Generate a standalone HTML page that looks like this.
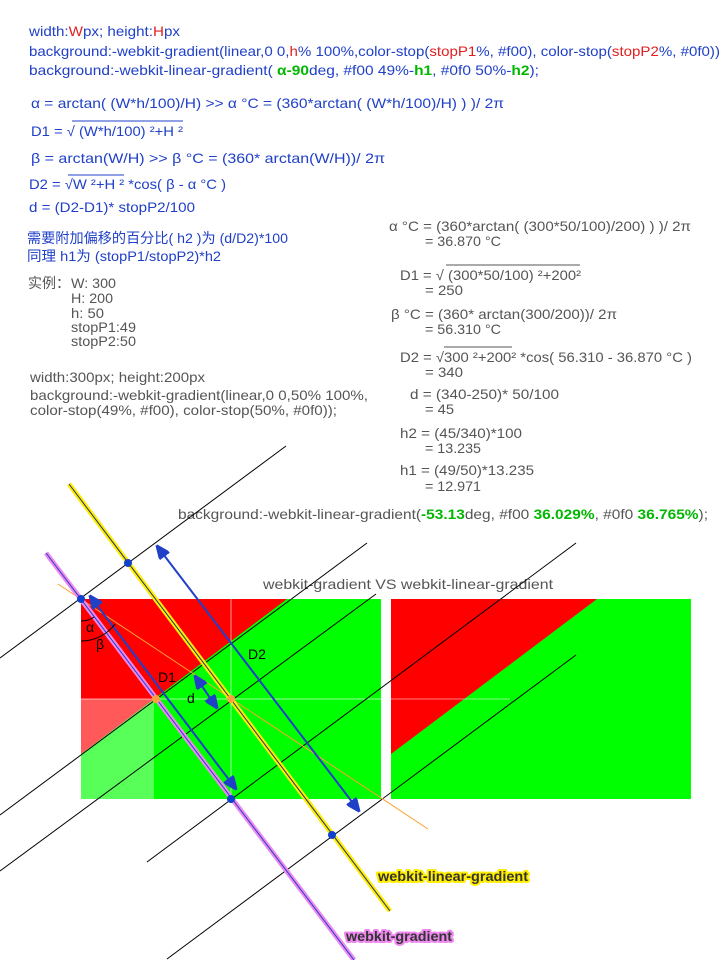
<!DOCTYPE html>
<html><head><meta charset="utf-8"><style>
html,body{margin:0;padding:0;background:#fff}
svg{display:block}
text{font-family:"Liberation Sans","Noto Sans CJK SC",sans-serif;font-size:14px}
.b{fill:#2040c8}.g{fill:#555}.r{fill:#e02020}.gr{fill:#00b800;font-weight:bold}
</style></head><body>
<svg width="720" height="960" viewBox="0 0 720 960">
<g>
<text class="b" x="29" y="36" textLength="151" lengthAdjust="spacingAndGlyphs">width:<tspan class="r">W</tspan>px; height:<tspan class="r">H</tspan>px</text>
<text class="b" x="29" y="56" textLength="691" lengthAdjust="spacingAndGlyphs">background:-webkit-gradient(linear,0 0,<tspan class="r">h</tspan>% 100%,color-stop(<tspan class="r">stopP1</tspan>%, #f00), color-stop(<tspan class="r">stopP2</tspan>%, #0f0))</text>
<text class="b" x="29" y="75" textLength="510" lengthAdjust="spacingAndGlyphs">background:-webkit-linear-gradient( <tspan class="gr">α-90</tspan>deg,  #f00 49%-<tspan class="gr">h1</tspan>,  #0f0 50%-<tspan class="gr">h2</tspan>);</text>
<text class="b" x="31" y="108" textLength="473" lengthAdjust="spacingAndGlyphs">α = arctan( (W*h/100)/H) &gt;&gt;   α °C = (360*arctan( (W*h/100)/H) ) )/ 2π</text>
<text class="b" x="31" y="136" textLength="152" lengthAdjust="spacingAndGlyphs">D1 = √ (W*h/100) ²+H ²</text>
<line x1="72" y1="121" x2="183" y2="121" stroke="#2040c8" stroke-width="1"/>
<text class="b" x="31" y="163" textLength="354" lengthAdjust="spacingAndGlyphs">β = arctan(W/H)    &gt;&gt;   β °C = (360* arctan(W/H))/ 2π</text>
<text class="b" x="29" y="189" textLength="197" lengthAdjust="spacingAndGlyphs">D2 = √W ²+H ²  *cos( β - α °C )</text>
<line x1="68" y1="175" x2="124" y2="175" stroke="#2040c8" stroke-width="1"/>
<text class="b" x="29" y="212" textLength="166" lengthAdjust="spacingAndGlyphs">d = (D2-D1)* stopP2/100</text>
<text class="b" x="27" y="243" textLength="261" lengthAdjust="spacingAndGlyphs">需要附加偏移的百分比( h2 )为  (d/D2)*100</text>
<text class="b" x="27" y="261" textLength="194" lengthAdjust="spacingAndGlyphs">同理 h1为 (stopP1/stopP2)*h2</text>
</g>
<g>
<text class="g" x="28" y="288">实例：</text>
<text class="g" x="71" y="288" textLength="45" lengthAdjust="spacingAndGlyphs">W: 300</text>
<text class="g" x="71" y="303" textLength="42" lengthAdjust="spacingAndGlyphs">H: 200</text>
<text class="g" x="71" y="318" textLength="33" lengthAdjust="spacingAndGlyphs">h: 50</text>
<text class="g" x="71" y="332" textLength="65" lengthAdjust="spacingAndGlyphs">stopP1:49</text>
<text class="g" x="71" y="346" textLength="65" lengthAdjust="spacingAndGlyphs">stopP2:50</text>
<text class="g" x="30" y="382" textLength="175" lengthAdjust="spacingAndGlyphs">width:300px; height:200px</text>
<text class="g" x="30" y="400" textLength="338" lengthAdjust="spacingAndGlyphs">background:-webkit-gradient(linear,0 0,50% 100%,</text>
<text class="g" x="30" y="415" textLength="307" lengthAdjust="spacingAndGlyphs">color-stop(49%, #f00), color-stop(50%, #0f0));</text>
</g>
<g>
<text class="g" x="389" y="231" textLength="302" lengthAdjust="spacingAndGlyphs">α °C = (360*arctan( (300*50/100)/200) ) )/ 2π</text>
<text class="g" x="425" y="246" textLength="76" lengthAdjust="spacingAndGlyphs">= 36.870 °C</text>
<text class="g" x="400" y="280" textLength="181" lengthAdjust="spacingAndGlyphs">D1 = √ (300*50/100) ²+200²</text>
<line x1="446" y1="265" x2="580" y2="265" stroke="#555"/>
<text class="g" x="425" y="295" textLength="38" lengthAdjust="spacingAndGlyphs">= 250</text>
<text class="g" x="391" y="319" textLength="226" lengthAdjust="spacingAndGlyphs">β °C = (360* arctan(300/200))/ 2π</text>
<text class="g" x="425" y="334" textLength="76" lengthAdjust="spacingAndGlyphs">= 56.310 °C</text>
<text class="g" x="400" y="362" textLength="292" lengthAdjust="spacingAndGlyphs">D2 = √300 ²+200²  *cos( 56.310 - 36.870 °C )</text>
<line x1="444" y1="347" x2="512" y2="347" stroke="#555"/>
<text class="g" x="425" y="377" textLength="38" lengthAdjust="spacingAndGlyphs">= 340</text>
<text class="g" x="410" y="399" textLength="149" lengthAdjust="spacingAndGlyphs">d = (340-250)* 50/100</text>
<text class="g" x="425" y="414" textLength="29" lengthAdjust="spacingAndGlyphs">= 45</text>
<text class="g" x="400" y="438" textLength="122" lengthAdjust="spacingAndGlyphs">h2 = (45/340)*100</text>
<text class="g" x="425" y="453" textLength="56" lengthAdjust="spacingAndGlyphs">= 13.235</text>
<text class="g" x="400" y="475" textLength="134" lengthAdjust="spacingAndGlyphs">h1 = (49/50)*13.235</text>
<text class="g" x="425" y="491" textLength="56" lengthAdjust="spacingAndGlyphs">= 12.971</text>
<text class="g" x="178" y="519" textLength="530" lengthAdjust="spacingAndGlyphs">background:-webkit-linear-gradient(<tspan class="gr">-53.13</tspan>deg,  #f00 <tspan class="gr">36.029%</tspan>,  #0f0 <tspan class="gr">36.765%</tspan>);</text>
<text class="g" x="263" y="589" textLength="290" lengthAdjust="spacingAndGlyphs">webkit-gradient  VS  webkit-linear-gradient</text>
</g>
<g>
<rect x="81" y="599" width="300" height="200" fill="#00ff00"/>
<polygon points="81,599 287,599 81,754" fill="#ff0000"/>
<rect x="81" y="699" width="73" height="100" fill="#fff" opacity="0.35"/>
<line x1="231" y1="599" x2="231" y2="799" stroke="#fff" stroke-opacity="0.6"/>
<line x1="81" y1="699" x2="381" y2="699" stroke="#fff" stroke-opacity="0.6"/>
</g>
<g>
<rect x="391" y="599" width="300" height="200" fill="#00ff00"/>
<polygon points="391,599 597,599 391,754" fill="#ff0000"/>
<line x1="391" y1="699" x2="510" y2="699" stroke="#fff" stroke-opacity="0.5"/>
</g>
<g stroke="#000" stroke-width="1">
<line x1="0" y1="658" x2="286" y2="446"/>
<line x1="0" y1="815" x2="367" y2="543"/>
<line x1="0" y1="871" x2="376" y2="594"/>
<line x1="147" y1="862" x2="576" y2="543"/>
<line x1="167" y1="959" x2="576" y2="655"/>
</g>
<line x1="58" y1="584" x2="428" y2="829" stroke="#ffa030" stroke-width="1"/>
<g>
<line x1="46" y1="553" x2="354" y2="960" stroke="#ee88ee" stroke-width="5"/>
<line x1="46" y1="553" x2="354" y2="960" stroke="#2040c8" stroke-width="1"/>
</g>
<g>
<line x1="69" y1="484" x2="390" y2="911" stroke="#ffee00" stroke-width="5"/>
<line x1="69" y1="484" x2="390" y2="911" stroke="#203080" stroke-width="1"/>
</g>
<g stroke="#2040c8" stroke-width="2" fill="#2040c8">
<defs>
<marker id="ah2" markerWidth="14" markerHeight="12" refX="13" refY="6" orient="auto-start-reverse" markerUnits="userSpaceOnUse"><path d="M0,0 L14,6 L0,12 z" fill="#2040c8"/></marker></defs>
<line x1="90" y1="596" x2="236" y2="789" marker-start="url(#ah2)" marker-end="url(#ah2)"/>
<line x1="157" y1="546" x2="359" y2="811" marker-start="url(#ah2)" marker-end="url(#ah2)"/>
<line x1="195" y1="676" x2="217" y2="708" marker-start="url(#ah2)" marker-end="url(#ah2)"/>
</g>
<g fill="none" stroke="#000">
<path d="M81,621 A22,22 0 0 0 94,617"/>
<path d="M81,641 A42,42 0 0 0 115,624"/>
</g>
<g>
<circle cx="81" cy="599" r="4" fill="#1040d0"/>
<circle cx="128" cy="563" r="4" fill="#1040d0"/>
<circle cx="231" cy="799" r="4" fill="#1040d0"/>
<circle cx="332" cy="835" r="4" fill="#1040d0"/>
<circle cx="156" cy="699" r="4" fill="#ffa040"/>
<circle cx="231" cy="699" r="4" fill="#ffa040"/>
</g>
<g>
<text x="86" y="632" font-size="12">α</text>
<text x="96" y="649" font-size="12">β</text>
<text x="158" y="682">D1</text>
<text x="248" y="659">D2</text>
<text x="187" y="703">d</text>
</g>
<g font-weight="bold">
<text x="378" y="881" textLength="150" lengthAdjust="spacingAndGlyphs" stroke="#ffee00" stroke-width="4" stroke-linejoin="round" fill="#ffee00">webkit-linear-gradient</text>
<text x="378" y="881" textLength="150" lengthAdjust="spacingAndGlyphs" fill="#333">webkit-linear-gradient</text>
<text x="346" y="941" textLength="106" lengthAdjust="spacingAndGlyphs" stroke="#ee88ee" stroke-width="4" stroke-linejoin="round" fill="#ee88ee">webkit-gradient</text>
<text x="346" y="941" textLength="106" lengthAdjust="spacingAndGlyphs" fill="#333">webkit-gradient</text>
</g>
</svg>
</body></html>
